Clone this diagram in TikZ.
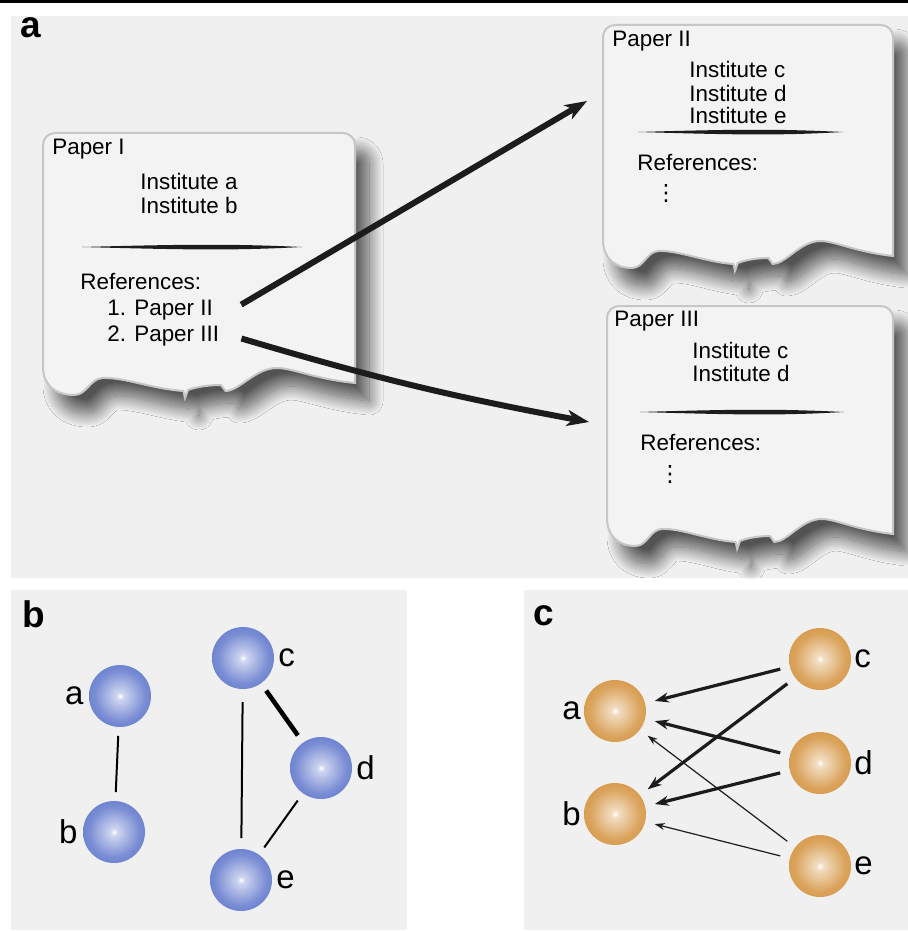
\documentclass[tikz,border=0pt]{standalone}
\usepackage{fontspec}
\setmainfont{Liberation Sans}
\newfontfamily\symfont{DejaVu Sans}
\usetikzlibrary{arrows.meta,shadows.blur}

\definecolor{panelgray}{HTML}{F0F0F0}
\definecolor{sheetfill}{HTML}{F3F3F3}
\definecolor{sheetedge}{HTML}{C6C6C6}
\definecolor{ink}{HTML}{1C1C1C}
\definecolor{ballblue}{HTML}{5A72CA}
\definecolor{ballorange}{HTML}{D28E36}

\pgfdeclareradialshading{blueball}{\pgfpoint{0bp}{0bp}}{%
  color(0bp)=(white); color(3bp)=(ballblue!30!white); color(20bp)=(ballblue!80!white);
  color(34bp)=(ballblue); color(50bp)=(ballblue)}
\pgfdeclareradialshading{orangeball}{\pgfpoint{0bp}{0bp}}{%
  color(0bp)=(white); color(3bp)=(ballorange!30!white); color(20bp)=(ballorange!80!white);
  color(34bp)=(ballorange); color(50bp)=(ballorange)}

\tikzset{
  sheet/.style={fill=sheetfill, draw=sheetedge, line width=1pt,
    blur shadow={shadow xshift=7pt, shadow yshift=-9pt, shadow blur radius=7pt,
      shadow blur steps=24, shadow opacity=65}},
  panel/.style={fill=panelgray},
  txt/.style={anchor=base west, inner sep=0pt, font=\fontsize{11.2}{13}\selectfont},
  dots/.style={inner sep=0pt, font=\symfont\fontsize{11.2}{13}\selectfont},
  tag/.style={anchor=base west, inner sep=0pt, font=\fontsize{18.5}{20}\selectfont\bfseries},
  citearrow/.style={line width=3pt, ink, -{Stealth[length=11pt,width=8pt,inset=3pt]}},
  blueb/.style={circle, minimum size=31pt, inner sep=0pt, outer sep=4.5pt, shading=blueball},
  orangeb/.style={circle, minimum size=31pt, inner sep=0pt, outer sep=5pt, shading=orangeball},
  thinlink/.style={line width=1pt, black},
  thicklink/.style={line width=2.3pt, black},
  strongcite/.style={line width=1.6pt, ink, -{Stealth[length=7pt,width=5pt]}},
  weakcite/.style={line width=0.6pt, ink, -{Stealth[length=5pt,width=3.5pt]}},
}

% torn sheet: left, top, width, height of the left side
\newcommand{\tornsheet}[4]{%
  \path[sheet] (#1,{#2+#4}) [rounded corners=6pt] -- (#1,#2) -- ({#1+#3},#2) -- ({#1+#3},{#2+#4})
    [sharp corners] -- ({#1+#3},{#2+#4+16})
    .. controls ({#1+0.87*#3},{#2+#4+12}) and ({#1+0.80*#3},{#2+#4+1}) .. ({#1+0.75*#3},{#2+#4+1})
    .. controls ({#1+0.68*#3},{#2+#4+1}) and ({#1+0.63*#3},{#2+#4+24}) .. ({#1+0.585*#3},{#2+#4+24})
    -- ({#1+0.57*#3},{#2+#4+18})
    .. controls ({#1+0.53*#3},{#2+#4+18}) and ({#1+0.49*#3},{#2+#4+20}) .. ({#1+0.465*#3},{#2+#4+23})
    -- ({#1+0.455*#3},{#2+#4+31}) -- ({#1+0.45*#3},{#2+#4+24})
    .. controls ({#1+0.35*#3},{#2+#4+22}) and ({#1+0.26*#3},{#2+#4+10}) .. ({#1+0.19*#3},{#2+#4+11})
    .. controls ({#1+0.15*#3},{#2+#4+12}) and ({#1+0.14*#3},{#2+#4+28}) .. ({#1+0.10*#3},{#2+#4+28})
    .. controls ({#1+0.04*#3},{#2+#4+28}) and (#1,{#2+#4+18}) .. (#1,{#2+#4}) -- cycle;}

% hand drawn rule: x from, x to, y
\newcommand{\scribble}[3]{%
  \fill[ink] (#1,#3) .. controls ({0.5*#1+0.5*#2},{#3-3}) and ({0.3*#1+0.7*#2},{#3-3}) .. (#2,#3)
    .. controls ({0.3*#1+0.7*#2},{#3+3.5}) and ({0.5*#1+0.5*#2},{#3+3}) .. (#1,#3) -- cycle;}

\begin{document}
\begin{tikzpicture}[x=0.5pt, y=-0.5pt,
  every label/.style={font=\fontsize{16.5}{18}\selectfont, inner sep=0pt}]
\useasboundingbox (0,0) rectangle (908,931);
\fill[black] (0,0) rectangle (908,3);
\fill[panel] (11,16) rectangle (908,578);
\fill[panel] (11,590) rectangle (407,930);
\fill[panel] (524,590) rectangle (908,930);

\node[tag] (tag-a) at (20,38) {a};
\node[tag] (tag-b) at (22,627) {b};
\node[tag] (tag-c) at (533,625) {c};

% panel a
\tornsheet{43}{133}{312}{234}
\tornsheet{603}{25}{290}{215}
\tornsheet{607}{306}{286}{212}

\node[txt] (p1-title) at (52,155) {Paper I};
\node[txt] (p1-inst1) at (140,189) {Institute a};
\node[txt] (p1-inst2) at (140,213) {Institute b};
\scribble{82}{302}{247}
\node[txt] (p1-refs) at (80,289) {References:};
\node[txt] (p1-ref2) at (107,315) {1. Paper II};
\node[txt] (p1-ref3) at (107,341) {2. Paper III};

\node[txt] (p2-title) at (612,47) {Paper II};
\node[txt] (p2-inst1) at (689,78) {Institute c};
\node[txt] (p2-inst2) at (689,102) {Institute d};
\node[txt] (p2-inst3) at (689,124) {Institute e};
\scribble{638}{843}{132}
\node[txt] (p2-refs) at (637,170) {References:};
\node[dots] (p2-more) at (666,194) {⋮};

\node[txt] (p3-title) at (614,326) {Paper III};
\node[txt] (p3-inst1) at (692,358) {Institute c};
\node[txt] (p3-inst2) at (692,381) {Institute d};
\scribble{640}{844}{412}
\node[txt] (p3-refs) at (640,450) {References:};
\node[dots] (p3-more) at (670,475) {⋮};

\coordinate (p2-in) at (587,101);
\coordinate (p3-in) at (589,422);
\draw[citearrow] ([xshift=14pt,yshift=2.5pt]p1-ref2.east) -- (p2-in);
\draw[citearrow] ([xshift=11pt,yshift=-1.5pt]p1-ref3.east) to[bend right=3] (p3-in);

% panel b
\node[blueb, label={[xshift=2pt]left:a}] (un-a) at (120,696) {};
\node[blueb, label={[xshift=2pt]left:b}] (un-b) at (114,832) {};
\node[blueb, label={[xshift=-2.5pt]right:c}] (un-c) at (243,658) {};
\node[blueb, label={[xshift=-2.5pt]right:d}] (un-d) at (321,768) {};
\node[blueb, label={[xshift=-2.5pt]right:e}] (un-e) at (241,880) {};
\draw[thinlink] (un-a) -- (un-b);
\draw[thinlink, shorten <=2pt, shorten >=1pt] (un-c) -- (un-e);
\draw[thicklink] (un-c) -- (un-d);
\draw[thinlink] (un-d) -- (un-e);

% panel c
\node[orangeb, label={[xshift=3.5pt]left:a}] (di-a) at (615,711) {};
\node[orangeb, label={[xshift=3.5pt]left:b}] (di-b) at (615,814) {};
\node[orangeb, label={[xshift=-3.5pt]right:c}] (di-c) at (820,659) {};
\node[orangeb, label={[xshift=-3.5pt]right:d}] (di-d) at (820,763) {};
\node[orangeb, label={[xshift=-3.5pt]right:e}] (di-e) at (820,866) {};
\draw[strongcite] (di-c) -- (di-a);
\draw[strongcite] (di-c) -- (di-b);
\draw[strongcite] (di-d) -- (di-a);
\draw[strongcite] (di-d) -- (di-b);
\draw[weakcite] (di-e) -- (di-a);
\draw[weakcite] (di-e) -- (di-b);
\end{tikzpicture}
\end{document}
